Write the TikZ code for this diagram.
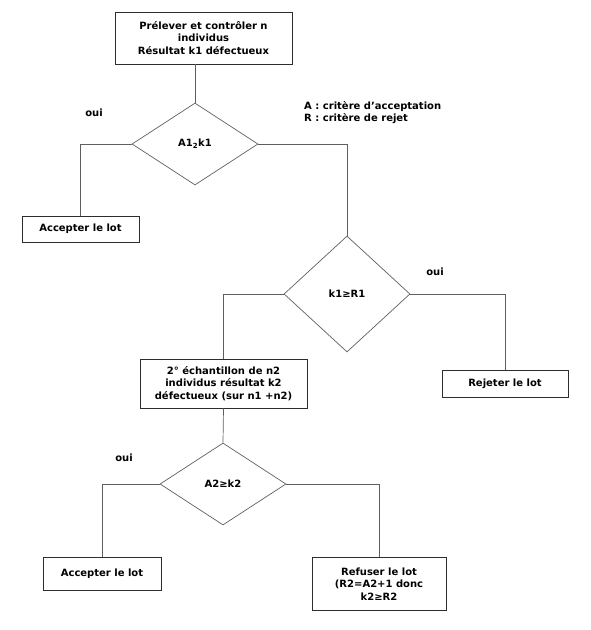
\documentclass[tikz,border=0pt]{standalone}
\usepackage{fontspec}
\setmainfont{DejaVu Sans}
\usetikzlibrary{shapes.geometric}
\definecolor{trait}{RGB}{95,95,95}
\definecolor{cadre}{RGB}{45,45,45}

\begin{document}
\begin{tikzpicture}[x=1pt, y=-1pt, anchor=center,
	boite/.style={draw=cadre, line width=0.9pt, align=center, inner sep=0pt, font=\bfseries\fontsize{10}{12.5}\selectfont},
	losange/.style={diamond, draw=trait, line width=0.7pt, inner sep=0pt, font=\bfseries\fontsize{10}{12.5}\selectfont},
	lien/.style={draw=trait, line width=0.7pt},
	texte/.style={inner sep=0pt, font=\bfseries\fontsize{10}{12.5}\selectfont}]

		\useasboundingbox (0,0) rectangle (591,630);
		
		% premier prelevement
		\node[boite, minimum width=177, minimum height=52] (prelev) at (203.5,38) {Prélever et contrôler n\\individus\\Résultat k1 défectueux};
		\node[losange, minimum width=126, minimum height=82] (test1) at (195,144) {A1\textsubscript{2}k1};
		\node[texte] (oui1) at (94,113) {oui};
		\node[texte, align=left, anchor=west] (legende) at (304,112.5) {A : critère d’acceptation\\R : critère de rejet};
		\node[boite, minimum width=117, minimum height=26] (accept1) at (80.5,229) {Accepter le lot};
		
		\node[losange, minimum width=126, minimum height=116] (test2) at (347,294) {k1≥R1};
		\node[texte] (oui2) at (435,272) {oui};
		\node[boite, minimum width=126, minimum height=27] (rejet) at (505,383.5) {Rejeter le lot};
		
		% second prelevement
		\node[boite, minimum width=167, minimum height=49] (echant2) at (223.5,383.5) {2° échantillon de n2\\individus résultat k2\\défectueux (sur n1 +n2)};
		\node[losange, minimum width=126, minimum height=82] (test3) at (223,484) {A2≥k2};
		\node[texte] (oui3) at (124,458) {oui};
		\node[boite, minimum width=118, minimum height=33] (accept2) at (102,574) {Accepter le lot};
		\node[boite, minimum width=134, minimum height=53] (refus) at (379,584) {Refuser le lot\\(R2=A2+1 donc\\k2≥R2};
		
		\draw[lien] (prelev.south -| test1.north) -- (test1.north);
		\draw[lien] (test1.west) -| (accept1.north);
		\draw[lien] (test1.east) -| (test2.north);
		\draw[lien] (test2.west) -| (echant2.north);
		\draw[lien] (test2.east) -| (rejet.north);
		\draw[lien] (echant2.south) -- (test3.north);
		\draw[lien] (test3.west) -| (accept2.north);
		\draw[lien] (test3.east) -| (refus.north);

\end{tikzpicture}
\end{document}
